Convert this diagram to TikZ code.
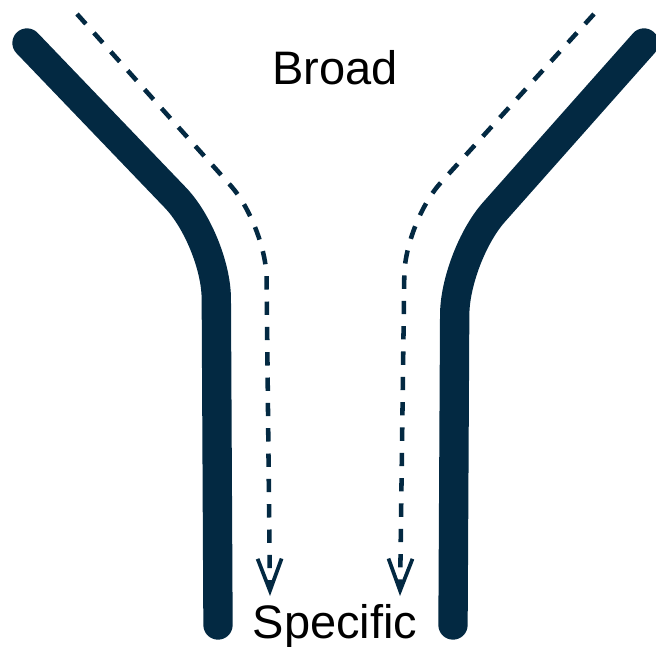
\documentclass[tikz,border=0pt]{standalone}
\usepackage{fontspec}
\setmainfont{Liberation Sans}
\usetikzlibrary{arrows.meta}
\definecolor{navy}{RGB}{3,41,66}
\begin{document}
\begin{tikzpicture}[x=0.75pt,y=-0.75pt,
  wall/.style={draw=navy,line width=22pt,line cap=round,rounded corners=44pt},
  flow/.style={draw=navy,line width=3.4pt,dash pattern=on 10pt off 9pt,rounded corners=40pt,
    -{Straight Barb[length=24pt,width=18pt,line width=2.8pt]}},
  lbl/.style={font=\fontsize{35.25}{40}\selectfont,anchor=base,inner sep=0pt}]
\useasboundingbox (0,0) rectangle (656,646);
% walls
\coordinate (lw1) at (27,43);
\coordinate (lw2) at (216,240);
\coordinate (lw3) at (218,625);
\coordinate (rw1) at (644,43);
\coordinate (rw2) at (455,256);
\coordinate (rw3) at (453,625);
\draw[wall] (lw1) -- (lw2) -- (lw3);
\draw[wall] (rw1) -- (rw2) -- (rw3);
% flows
\coordinate (lf1) at (77,14);
\coordinate (lf2) at (266,225);
\coordinate (lf3) at (270,596);
\coordinate (rf1) at (594,14);
\coordinate (rf2) at (405,222);
\coordinate (rf3) at (400,596);
\draw[flow] (lf1) -- (lf2) -- (lf3);
\draw[flow] (rf1) -- (rf2) -- (rf3);
% labels
\node[lbl] (broad) at (335,84) {Broad};
\node[lbl] (specific) at (335,638) {Specific};
\end{tikzpicture}
\end{document}
